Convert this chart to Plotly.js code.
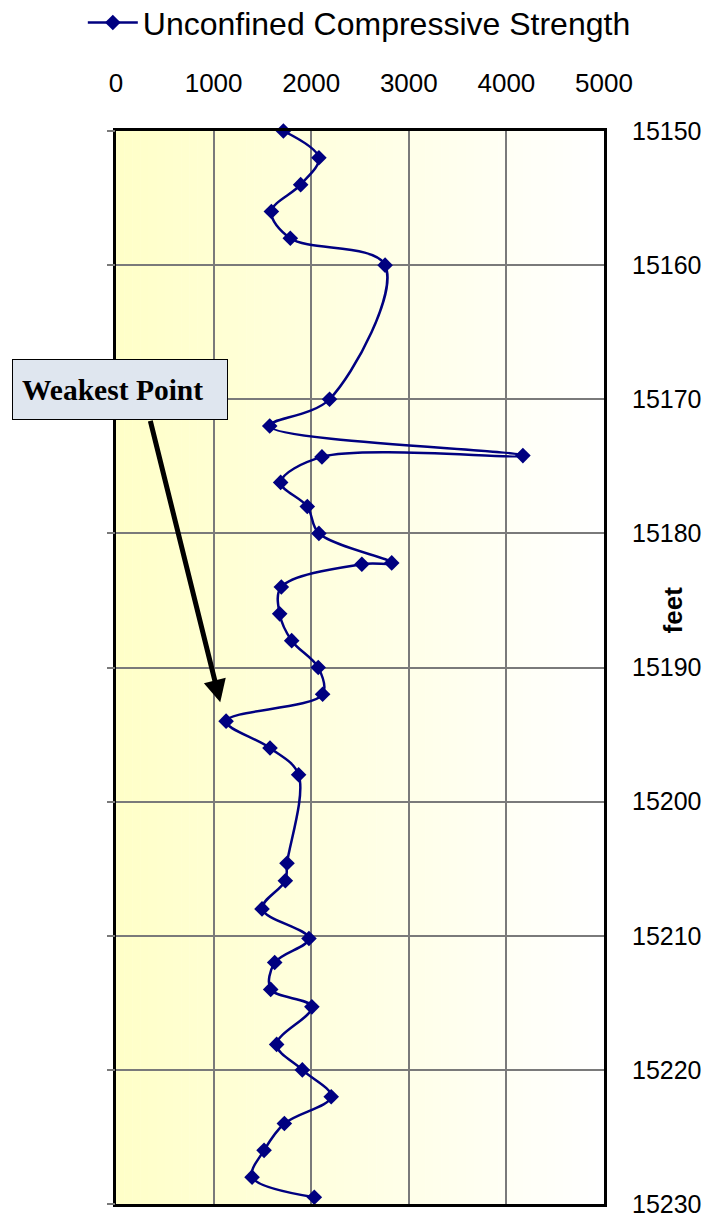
<!DOCTYPE html>
<html>
<head>
<meta charset="utf-8">
<script src="https://cdn.plot.ly/plotly-3.0.1.min.js"></script>
<style>html,body{margin:0;padding:0;background:#fff;}#chart{width:717px;height:1217px;}</style>
</head>
<body>
<div id="chart"></div>
<script>
// Depth (feet) and unconfined compressive strength
const depthFeet = [15150, 15152, 15154, 15156, 15158, 15160, 15170, 15172, 15174.2, 15174.3,
  15176.2, 15178, 15180, 15182.2, 15182.3, 15184, 15186, 15188, 15190, 15192,
  15194, 15196, 15198, 15204.6, 15205.9, 15208, 15210.2, 15212, 15214, 15215.3,
  15218.1, 15220, 15222, 15224, 15226, 15228, 15229.5];
const ucsValues = [1715, 2079, 1892, 1592, 1786, 2757, 2188, 1575, 4169, 2110,
  1687, 1960, 2079, 2825, 2519, 1694, 1677, 1800, 2072, 2117,
  1128, 1578, 1871, 1752, 1735, 1496, 1977, 1626, 1585, 2007,
  1646, 1909, 2205, 1725, 1517, 1394, 2032];
const seriesName = 'Unconfined Compressive Strength';
const xTickValues = [0, 1000, 2000, 3000, 4000, 5000];
const yTickValues = [15150, 15160, 15170, 15180, 15190, 15200, 15210, 15220, 15230];
const weakestLabel = 'Weakest Point';
const weakestIndex = 20; // the minimum strength point

const xRange = [0, 5000];
const yRange = [15230, 15150];

// background gradient (light yellow to white) built as thin strips
const shapes = [];
const nStrips = 60;
for (let i = 0; i < nStrips; i++) {
  const t = i / (nStrips - 1);
  const b = Math.round(200 + 55 * t);
  shapes.push({
    type: 'rect', layer: 'below', xref: 'x', yref: 'paper',
    x0: xRange[0] + (xRange[1] - xRange[0]) * i / nStrips,
    x1: xRange[0] + (xRange[1] - xRange[0]) * (i + 1) / nStrips + 5,
    y0: 0, y1: 1,
    fillcolor: 'rgb(255,255,' + b + ')', line: {width: 0}
  });
}

const trace = {
  x: ucsValues, y: depthFeet, name: seriesName,
  type: 'scatter', mode: 'lines+markers',
  line: {color: '#000080', width: 2.5, shape: 'spline', smoothing: 1},
  marker: {symbol: 'diamond', size: 12, color: '#000080'},
  cliponaxis: false
};
const tickTrace = {x: [null], y: [null], yaxis: 'y2', showlegend: false, hoverinfo: 'skip', mode: 'lines'};

const font = 'Liberation Sans, Arial, sans-serif';
const layout = {
  width: 717, height: 1217,
  margin: {l: 116, r: 113, t: 131, b: 13, pad: 0, autoexpand: false},
  paper_bgcolor: '#ffffff', plot_bgcolor: '#ffffff',
  font: {family: font, color: '#000', size: 26},
  showlegend: true,
  legend: {orientation: 'h', x: -0.068, xanchor: 'left', y: 1.101, yanchor: 'middle',
    font: {family: font, size: 32, color: '#000'}, bgcolor: 'rgba(0,0,0,0)', itemwidth: 50},
  xaxis: {side: 'top', range: xRange, tickvals: xTickValues, ticks: '',
    ticklabelstandoff: 26, ticklabeloverflow: 'allow', showgrid: true, gridcolor: '#7a7a7a', gridwidth: 2,
    showline: true, linecolor: '#000', linewidth: 3, mirror: true, zeroline: false,
    tickfont: {family: font, size: 26}},
  yaxis: {side: 'right', range: yRange, tickvals: yTickValues, tickformat: 'd', ticks: '',
    ticklabelstandoff: 20, ticklabeloverflow: 'allow', showgrid: true, gridcolor: '#7a7a7a', gridwidth: 2,
    showline: true, linecolor: '#000', linewidth: 3, mirror: true, zeroline: false,
    tickfont: {family: font, size: 25}},
  yaxis2: {overlaying: 'y', side: 'left', range: yRange, tickvals: yTickValues,
    ticks: 'outside', ticklen: 8, tickwidth: 2, tickcolor: '#7a7a7a',
    showticklabels: false, showgrid: false, showline: false, zeroline: false},
  shapes: shapes,
  annotations: [
    {xref: 'x', yref: 'y', x: ucsValues[weakestIndex] - 60, y: depthFeet[weakestIndex] - 1.4,
     axref: 'x', ayref: 'y', ax: 348, ay: 15171.5,
     text: '', showarrow: true, arrowhead: 2, arrowsize: 0.9, arrowwidth: 5, arrowcolor: '#000'},
    {xref: 'x', yref: 'y', x: 44, y: 15169.25, xanchor: 'center', yanchor: 'middle',
     text: '<b>' + weakestLabel + '</b>', showarrow: false, align: 'left',
     width: 196, height: 41, borderpad: 9, borderwidth: 1, bordercolor: '#000',
     bgcolor: '#dfe6ef', font: {family: 'Liberation Serif, Times New Roman, serif', size: 29.5, color: '#000'}},
    {xref: 'paper', yref: 'paper', x: 1.176, y: 0.554, text: '<b>feet</b>', textangle: -90,
     showarrow: false, font: {family: font, size: 26, color: '#000'}}
  ]
};

Plotly.newPlot('chart', [trace, tickTrace], layout, {displayModeBar: false, staticPlot: true});
</script>
</body>
</html>
